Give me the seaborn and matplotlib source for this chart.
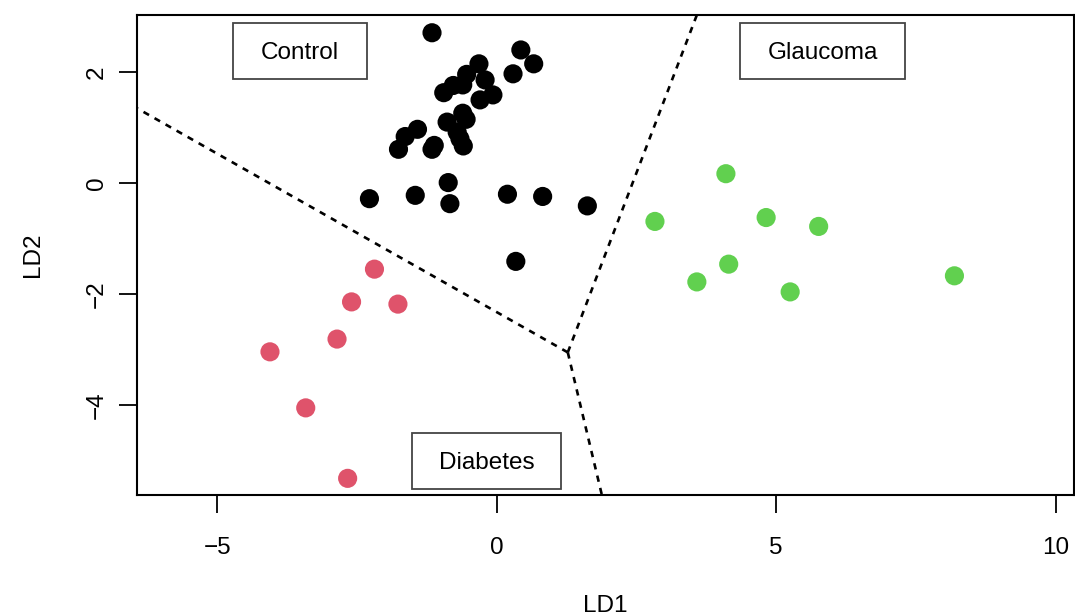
import matplotlib
matplotlib.use("Agg")
import matplotlib.pyplot as plt
import seaborn as sns
import pandas as pd
from matplotlib.patches import Rectangle

# ---- data ----
control_ld1 = [-1.16, 0.43, 0.66, -0.32, 0.29, -0.54, -0.21, -0.61, -0.78, -0.95,
               -0.07, -0.30, -0.61, -0.55, -0.89, -1.42, -1.64, -1.76, -0.71, -0.66,
               -0.60, -1.12, -1.16, -0.87, -2.28, -1.46, -0.84, 0.19, 0.82, 1.62, 0.34]
control_ld2 = [2.71, 2.40, 2.15, 2.15, 1.97, 1.96, 1.86, 1.77, 1.76, 1.63,
               1.59, 1.50, 1.26, 1.15, 1.10, 0.97, 0.84, 0.61, 0.92, 0.80,
               0.67, 0.68, 0.61, 0.01, -0.28, -0.22, -0.37, -0.20, -0.24, -0.41, -1.41]
diabetes_ld1 = [-2.19, -2.60, -1.77, -2.86, -4.06, -3.42, -2.67]
diabetes_ld2 = [-1.55, -2.14, -2.18, -2.81, -3.04, -4.05, -5.32]
glaucoma_ld1 = [4.10, 2.83, 4.82, 5.76, 4.15, 3.58, 5.25, 8.19]
glaucoma_ld2 = [0.17, -0.69, -0.62, -0.78, -1.46, -1.78, -1.96, -1.67]
groups = ["Control", "Diabetes", "Glaucoma"]
colors = ["#000000", "#DF536B", "#61D04F"]

# decision boundaries: common vertex and the three outer ends
vertex = (1.27, -3.05)
boundary_ends_ld1 = [-6.44, 3.58, 1.88]
boundary_ends_ld2 = [1.35, 3.03, -5.62]

x_ticks = [-5, 0, 5, 10]
y_ticks = [2, 0, -2, -4]

df = pd.DataFrame({
    "LD1": control_ld1 + diabetes_ld1 + glaucoma_ld1,
    "LD2": control_ld2 + diabetes_ld2 + glaucoma_ld2,
    "group": ["Control"] * len(control_ld1) + ["Diabetes"] * len(diabetes_ld1)
             + ["Glaucoma"] * len(glaucoma_ld1),
})

sns.set_theme(style="white")
plt.rcParams["font.family"] = ["Liberation Sans", "DejaVu Sans"]
plt.rcParams["text.color"] = "black"
plt.rcParams["axes.labelcolor"] = "black"
plt.rcParams["xtick.color"] = "black"
plt.rcParams["ytick.color"] = "black"

fig = plt.figure(figsize=(10.75, 6.15), dpi=100)
ax = fig.add_axes([137 / 1075, 1 - 495 / 615, 937 / 1075, 480 / 615])

# boundaries
for ex, ey in zip(boundary_ends_ld1, boundary_ends_ld2):
    seg = pd.DataFrame({"x": [vertex[0], ex], "y": [vertex[1], ey]})
    sns.lineplot(data=seg, x="x", y="y", ax=ax, color="black", lw=1.9,
                 sort=False, estimator=None, linestyle=(0, (2.4, 2.4)))

sns.scatterplot(data=df, x="LD1", y="LD2", hue="group", hue_order=groups,
                palette=dict(zip(groups, colors)), s=190, linewidth=0,
                ax=ax, legend=False, zorder=3)

ax.set_xlim(-6.44, 10.33)
ax.set_ylim(-5.62, 3.03)
ax.set_xticks(x_ticks)
ax.set_yticks(y_ticks)
ax.set_xticklabels(["\u22125" if v < 0 else str(v) for v in x_ticks])
ax.set_yticklabels(["\u2212" + str(-v) if v < 0 else str(v) for v in y_ticks],
                   rotation=90, va="center")
ax.tick_params(axis="both", length=13, width=1.3, labelsize=17.5,
               labelcolor="black", color="black", direction="out",
               bottom=True, left=True)
ax.tick_params(axis="x", pad=17)
ax.tick_params(axis="y", pad=8)
ax.set_xlabel("LD1", fontsize=17.5, labelpad=26, color="black")
ax.set_ylabel("LD2", fontsize=17.5, labelpad=30, color="black")

for sp in ax.spines.values():
    sp.set_color("black")
    sp.set_linewidth(1.5)

# group label boxes (axes fraction)
boxes = [("Control", 0.1025, 0.8667, 0.1430, 0.1166),
         ("Glaucoma", 0.6436, 0.8667, 0.1760, 0.1166),
         ("Diabetes", 0.2935, 0.0125, 0.1590, 0.1166)]
for label, bx, by, bw, bh in boxes:
    ax.add_patch(Rectangle((bx, by), bw, bh, transform=ax.transAxes,
                           facecolor="white", edgecolor="#444444", lw=1.3, zorder=4))
    ax.text(bx + bw / 2, by + bh / 2 - 0.004, label, transform=ax.transAxes,
            ha="center", va="center", fontsize=17.5, color="black", zorder=5)

fig.savefig("out.png", dpi=100, facecolor="white")
